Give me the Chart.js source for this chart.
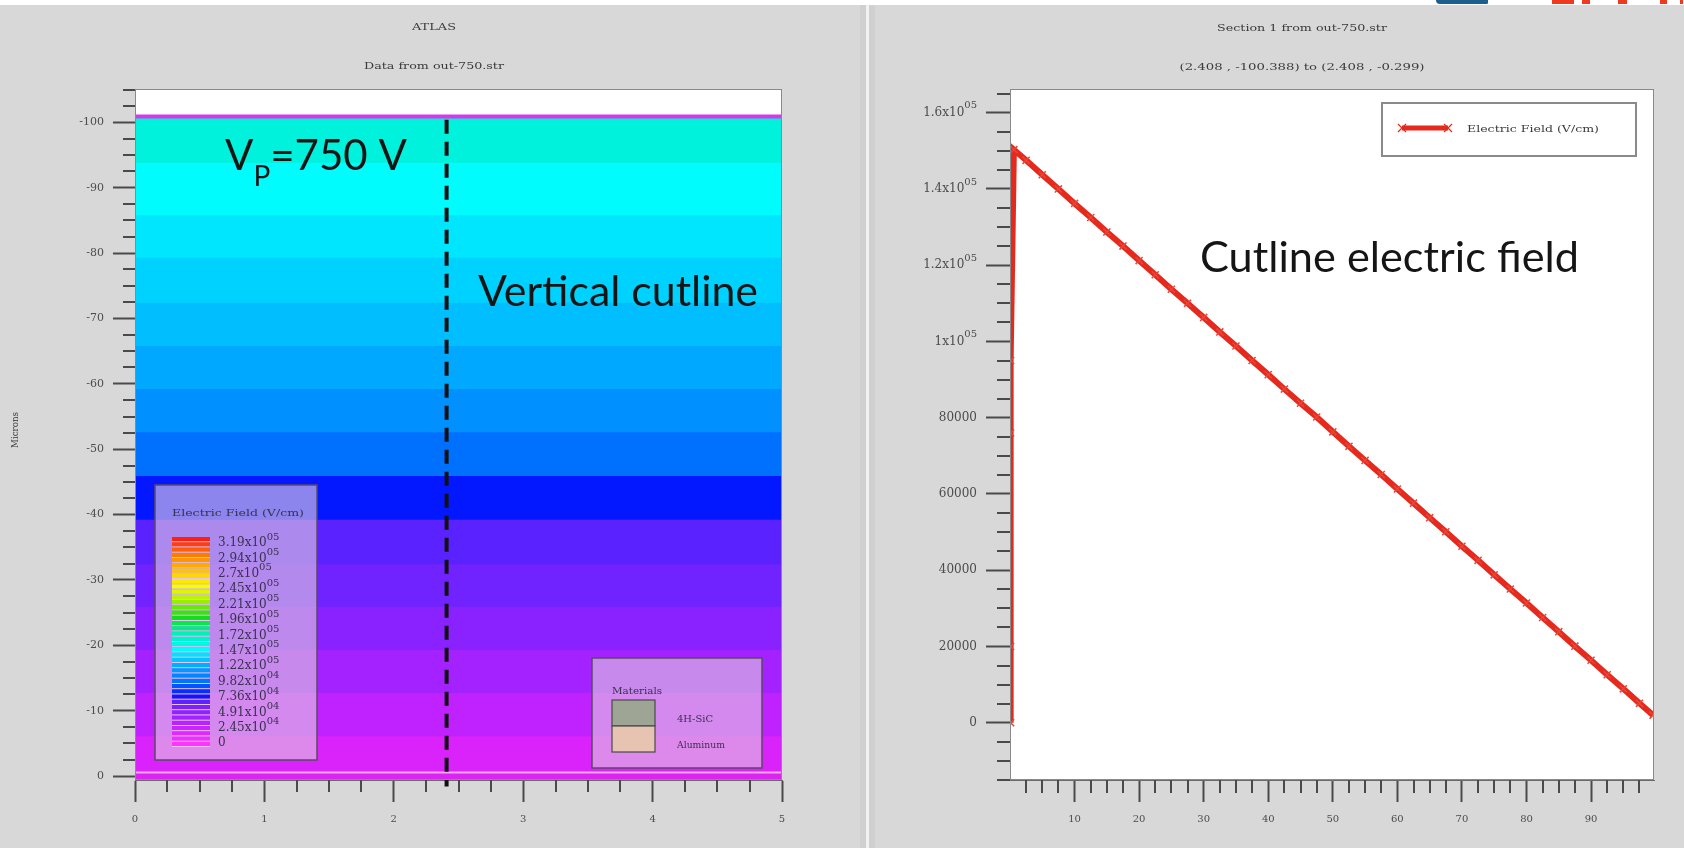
<!DOCTYPE html>
<html>
<head>
<meta charset="utf-8">
<title>Electric field – out-750.str</title>
<script src="https://cdn.jsdelivr.net/npm/chart.js@4.4.1/dist/chart.umd.min.js"></script>
<style>
  html, body { margin:0; padding:0; }
  body { width:1684px; height:848px; background:#d8d8d8; position:relative; overflow:hidden; }
  canvas { position:absolute; top:0; }
  #topStrip { position:absolute; left:0; top:0; width:1684px; height:5px; background:#fff; }
  #sep { position:absolute; left:860px; top:5px; width:15px; height:843px; background:#d0d0d0; }
  #sepLine { position:absolute; left:866px; top:5px; width:3px; height:843px; background:#f2f2f2; }
  .logo { position:absolute; top:0; height:4px; }
</style>
</head>
<body>
<div id="topStrip"></div>
<div class="logo" style="left:1436px;width:52px;background:#1c5f8c;border-radius:0 0 10px 30px"></div>
<div class="logo" style="left:1552px;width:22px;background:#f03a20"></div>
<div class="logo" style="left:1582px;width:8px;background:#f03a20"></div>
<div class="logo" style="left:1618px;width:9px;background:#f03a20"></div>
<div class="logo" style="left:1660px;width:7px;background:#f03a20"></div>
<div class="logo" style="left:1680px;width:3px;background:#f03a20"></div>
<div id="sep"></div><div id="sepLine"></div>
<canvas id="fieldMap" width="860" height="848" style="left:0"></canvas>
<canvas id="cutline" width="809" height="848" style="left:875px"></canvas>
<script>
// ---------------- Left panel: contour bands of the electric field ----------------
// Band boundaries (depth, microns) from the top contact down to the back side
const bandEdges = [-101.2, -100.6, -93.8, -85.8, -79.3, -72.4, -65.8, -59.2, -52.6,
                   -45.9, -39.2, -32.4, -25.9, -19.3, -12.7, -6.1, -0.7, -0.4, 0.6];
// Fill colour of the band below each boundary
const bandColors = ['#d838e8', '#00f2dc', '#00fcfc', '#00e6ff', '#00d2ff', '#00beff',
                    '#00a8ff', '#0090ff', '#0070ff', '#0418ff', '#5a22ff', '#7022ff',
                    '#8a22ff', '#a422ff', '#c022ff', '#da22fa', '#f4a8f4', '#dc24f2'];
// Vertical cutline position (x, microns) and its depth extent
const cutlineX = 2.408;
const cutlineDepth = [-100.388, 1.6];

const mapXTicks = [0, 1, 2, 3, 4, 5];
const mapYTicks = [-100, -90, -80, -70, -60, -50, -40, -30, -20, -10, 0];
const mapYLabels = ['-100', '-90', '-80', '-70', '-60', '-50', '-40', '-30', '-20', '-10', '0'];

// Colour-bar levels of the field legend (V/cm)
const fieldLevels = [319000, 294000, 270000, 245000, 221000, 196000, 172000,
                     147000, 122000, 98200, 73600, 49100, 24500, 0];
const fieldLevelBase = ['3.19x10', '2.94x10', '2.7x10', '2.45x10', '2.21x10', '1.96x10', '1.72x10',
                        '1.47x10', '1.22x10', '9.82x10', '7.36x10', '4.91x10', '2.45x10', '0'];
const fieldLevelExp = ['05', '05', '05', '05', '05', '05', '05', '05', '05', '04', '04', '04', '04', ''];

const materials = ['4H-SiC', 'Aluminum'];
const materialColors = ['#9ea594', '#e7c3b2'];

// ---------------- Right panel: field along the cutline ----------------
const cutDistance = [0.1, 0.1, 0.1, 0.1, 0.6, 2.5, 5, 7.5, 10, 12.5, 15, 17.5, 20, 22.5, 25,
                     27.5, 30, 32.5, 35, 37.5, 40, 42.5, 45, 47.5, 50, 52.5, 55, 57.5, 60,
                     62.5, 65, 67.5, 70, 72.5, 75, 77.5, 80, 82.5, 85, 87.5, 90, 92.5, 95,
                     97.5, 99.6];
const fieldValues = [0, 20000, 76000, 95000, 150300, 147500, 143700, 140000, 136200, 132500,
                     128700, 125000, 121200, 117500, 113700, 110000, 106300, 102500, 98800,
                     95000, 91300, 87500, 83800, 80200, 76300, 72500, 68800, 65100, 61300,
                     57600, 53800, 50100, 46300, 42600, 38800, 35100, 31400, 27600, 23900,
                     20100, 16400, 12600, 8900, 5100, 2000];
const cutXTicks = [10, 20, 30, 40, 50, 60, 70, 80, 90];
const cutYTicks = [0, 20000, 40000, 60000, 80000, 100000, 120000, 140000, 160000];
const cutYLabelBase = ['0', '20000', '40000', '60000', '80000', '1x10', '1.2x10', '1.4x10', '1.6x10'];
const cutYLabelExp = ['', '', '', '', '', '05', '05', '05', '05'];

// ---------------- shared helpers ----------------
const SMALL = '"DejaVu Serif", "Liberation Serif", serif';
const BIG = 'Lato, "Open Sans", sans-serif';

function steps(from, to, step, skipEvery) {
  const out = [];
  for (let v = from; v <= to + 1e-9; v += step) {
    const r = Math.round(v * 1000) / 1000;
    if (skipEvery && Math.abs(r / skipEvery - Math.round(r / skipEvery)) < 1e-6) continue;
    out.push(r);
  }
  return out;
}

// draw text squeezed/stretched horizontally to span a given width
function fitText(ctx, text, x, y, font, width, align) {
  ctx.save();
  ctx.font = font;
  const w = ctx.measureText(text).width;
  const k = width / w;
  let left = x;
  if (align === 'center') left = x - width / 2;
  ctx.translate(left, y);
  ctx.scale(k, 1);
  ctx.textAlign = 'left';
  ctx.fillText(text, 0, 0);
  ctx.restore();
}

function mix(c1, c2, t) {
  const a = parseInt(c1.slice(1), 16), b = parseInt(c2.slice(1), 16);
  const ch = s => Math.round(((a >> s) & 255) * (1 - t) + ((b >> s) & 255) * t);
  return `rgb(${ch(16)},${ch(8)},${ch(0)})`;
}
// colour ramp of the legend bar, bottom (0) to top (1)
const ramp = [[0, '#ff34ff'], [0.08, '#c824ff'], [0.16, '#8a22ff'], [0.21, '#5a22ff'], [0.235, '#0410ff'],
              [0.3, '#0070ff'], [0.38, '#00a8ff'], [0.46, '#00fcfc'], [0.54, '#00f0b4'], [0.62, '#10e010'],
              [0.7, '#a8f000'], [0.77, '#fcfc00'], [0.85, '#ffc000'], [0.92, '#ff8000'], [1, '#ff2010']];
function rampColor(t) {
  for (let i = 1; i < ramp.length; i++) {
    if (t <= ramp[i][0]) {
      const [t0, c0] = ramp[i - 1], [t1, c1] = ramp[i];
      return mix(c0, c1, (t - t0) / (t1 - t0));
    }
  }
  return ramp[ramp.length - 1][1];
}

// mantissa with a raised exponent; align 'right' puts the exponent's end at x
function drawSci(ctx, base, exp, x, y, size, expSize, rise, align) {
  ctx.textBaseline = 'middle';
  ctx.textAlign = 'left';
  ctx.font = `${size}px ${SMALL}`;
  const wb = ctx.measureText(base).width;
  ctx.font = `${expSize}px ${SMALL}`;
  const we = exp ? ctx.measureText(exp).width : 0;
  const left = align === 'right' ? x - wb - we : x;
  ctx.font = `${size}px ${SMALL}`;
  ctx.fillText(base, left, y);
  if (exp) {
    ctx.font = `${expSize}px ${SMALL}`;
    ctx.fillText(exp, left + wb, y - rise);
  }
}

const plotBackground = {
  id: 'plotBackground',
  beforeDraw(chart) {
    const { ctx, chartArea: a } = chart;
    ctx.save();
    ctx.fillStyle = '#ffffff';
    ctx.fillRect(a.left, a.top, a.right - a.left, a.bottom - a.top);
    ctx.restore();
  },
  afterDraw(chart) {
    const { ctx, chartArea: a } = chart;
    ctx.save();
    ctx.strokeStyle = '#8a8a8a';
    ctx.lineWidth = 1;
    ctx.strokeRect(a.left + 0.5, a.top + 0.5, a.right - a.left - 1, a.bottom - a.top - 1);
    ctx.restore();
  }
};

const minorTicks = {
  id: 'minorTicks',
  afterDraw(chart, args, opts) {
    const { ctx, chartArea: a, scales } = chart;
    ctx.save();
    ctx.strokeStyle = opts.color || '#555';
    ctx.lineWidth = opts.width || 2;
    ctx.beginPath();
    (opts.x || []).forEach(v => {
      const p = Math.round(scales.x.getPixelForValue(v));
      ctx.moveTo(p, a.bottom); ctx.lineTo(p, a.bottom + opts.length);
    });
    (opts.y || []).forEach(v => {
      const p = Math.round(scales.y.getPixelForValue(v));
      ctx.moveTo(a.left, p); ctx.lineTo(a.left - opts.length, p);
    });
    ctx.stroke();
    ctx.restore();
  }
};

function axisOptions(o) {
  return {
    type: 'linear',
    min: o.min, max: o.max, reverse: !!o.reverse,
    position: o.position,
    afterBuildTicks: s => { s.ticks = o.ticks.map(v => ({ value: v })); },
    afterFit: s => { if (o.width) s.width = o.width; if (o.height) s.height = o.height; },
    grid: { drawOnChartArea: false, drawTicks: true, tickLength: o.tickLength, tickColor: '#4a4a4a', tickWidth: 2 },
    border: { display: true, color: '#6a6a6a', width: 1 },
    ticks: {
      display: !o.hideLabels,
      padding: o.padding, color: '#4c4c4c', maxRotation: 0, autoSkip: false,
      font: { family: SMALL, size: o.fontSize },
      callback: (v, i) => o.labels ? o.labels[i] : String(v)
    }
  };
}

// ---------------- left chart ----------------
// each boundary fills downward to the bottom; lower bands are painted over upper ones
const mapDatasets = bandEdges.map((d, i) => ({
  data: [{ x: 0, y: d }, { x: 5, y: d }],
  borderWidth: 0, pointRadius: 0,
  backgroundColor: bandColors[i] || 'transparent',
  fill: i < bandColors.length ? 'start' : false,
  order: -i
}));
mapDatasets.push({
  data: cutlineDepth.map(d => ({ x: cutlineX, y: d })),
  borderColor: '#111111', borderWidth: 4, borderDash: [14, 8],
  pointRadius: 0, fill: false, clip: false,
  order: -100
});

const mapOverlay = {
  id: 'mapOverlay',
  afterDraw(chart) {
    const ctx = chart.ctx;
    ctx.save();
    ctx.fillStyle = '#3a3a3a';
    ctx.textBaseline = 'middle';
    fitText(ctx, 'ATLAS', 434, 27, `10px ${SMALL}`, 44, 'center');
    fitText(ctx, 'Data from out-750.str', 434, 66, `10px ${SMALL}`, 140, 'center');
    // y-axis title
    ctx.save();
    ctx.translate(16, 430);
    ctx.rotate(-Math.PI / 2);
    fitText(ctx, 'Microns', 0, 0, `9px ${SMALL}`, 36, 'center');
    ctx.restore();

    // field legend
    ctx.fillStyle = 'rgba(222,200,226,0.62)';
    ctx.fillRect(155, 485, 162, 275);
    ctx.strokeStyle = '#5a4a66'; ctx.lineWidth = 1.5;
    ctx.strokeRect(155, 485, 162, 275);
    ctx.fillStyle = '#3a3050';
    fitText(ctx, 'Electric Field (V/cm)', 172, 514, `9px ${SMALL}`, 132, 'left');
    const n = (fieldLevels.length - 1) * 3 + 1;
    const top = 537, bottom = 747, h = (bottom - top) / n;
    for (let i = 0; i < n; i++) {
      ctx.fillStyle = rampColor(1 - i / (n - 1));
      ctx.fillRect(172, top + i * h, 38, h - 1);
      ctx.fillStyle = 'rgba(255,230,255,0.6)';
      ctx.fillRect(172, top + i * h + h - 1, 38, 1);
    }
    ctx.fillStyle = '#3a3050';
    fieldLevelBase.forEach((b, i) => {
      drawSci(ctx, b, fieldLevelExp[i], 218, 543 + i * 15.4, 12, 10, 6, 'left');
    });

    // materials legend
    ctx.fillStyle = 'rgba(222,200,226,0.62)';
    ctx.fillRect(592, 658, 170, 110);
    ctx.strokeStyle = '#5a4a66'; ctx.lineWidth = 1.5;
    ctx.strokeRect(592, 658, 170, 110);
    ctx.fillStyle = '#3a3050';
    ctx.textBaseline = 'middle';
    fitText(ctx, 'Materials', 612, 691, `10px ${SMALL}`, 50, 'left');
    materials.forEach((m, i) => {
      const y = 700 + i * 26;
      ctx.fillStyle = materialColors[i];
      ctx.fillRect(612, y, 43, 26);
      ctx.strokeStyle = '#4a4a4a'; ctx.lineWidth = 1.2;
      ctx.strokeRect(612, y, 43, 26);
      ctx.fillStyle = '#3a3050';
      fitText(ctx, m, 677, y + 19, `10px ${SMALL}`, i === 0 ? 36 : 48, 'left');
    });

    // annotations
    ctx.fillStyle = '#151515';
    ctx.textBaseline = 'alphabetic';
    ctx.font = `42px ${BIG}`;
    ctx.fillText('V', 225, 170);
    let x = 225 + ctx.measureText('V').width;
    ctx.font = `28px ${BIG}`;
    ctx.fillText('P', x, 186);
    x += ctx.measureText('P').width;
    ctx.font = `42px ${BIG}`;
    ctx.fillText('=750 V', x, 170);
    fitText(ctx, 'Vertical cutline', 478, 306, `42px ${BIG}`, 280, 'left');
    ctx.restore();
  }
};

new Chart(document.getElementById('fieldMap'), {
  type: 'line',
  data: { datasets: mapDatasets },
  options: {
    responsive: false, animation: false, events: [],
    layout: { padding: { top: 89, right: 78, left: 0, bottom: 0 } },
    plugins: {
      legend: { display: false }, tooltip: { enabled: false },
      minorTicks: { x: steps(0, 5, 0.25, 1), y: steps(-105, 0, 2.5, 10), length: 12, color: '#4a4a4a', width: 2 }
    },
    elements: { line: { tension: 0 } },
    scales: {
      x: axisOptions({ min: 0, max: 5, ticks: mapXTicks, tickLength: 22, padding: 11, fontSize: 10, height: 68, position: 'bottom' }),
      y: axisOptions({ min: -105.1, max: 0.6, reverse: true, ticks: mapYTicks, labels: mapYLabels, tickLength: 22, padding: 9, fontSize: 11, width: 135, position: 'left' })
    }
  },
  plugins: [plotBackground, minorTicks, mapOverlay]
});

// ---------------- right chart ----------------
const cutOverlay = {
  id: 'cutOverlay',
  afterDraw(chart) {
    const ctx = chart.ctx;
    const ox = 875;
    ctx.save();
    // y tick labels with raised exponents, placed on the library's y scale
    const ys = chart.scales.y;
    const labelRight = chart.chartArea.left - 24 - 9;
    ctx.fillStyle = '#4c4c4c';
    cutYTicks.forEach((v, i) => {
      drawSci(ctx, cutYLabelBase[i], cutYLabelExp[i], labelRight, ys.getPixelForValue(v), 12, 10, 7, 'right');
    });

    ctx.fillStyle = '#3a3a3a';
    ctx.textBaseline = 'middle';
    fitText(ctx, 'Section 1 from out-750.str', 1302 - ox, 28, `10px ${SMALL}`, 170, 'center');
    fitText(ctx, '(2.408 , -100.388) to (2.408 , -0.299)', 1302 - ox, 67, `10px ${SMALL}`, 245, 'center');

    // legend
    ctx.fillStyle = '#ffffff';
    ctx.fillRect(1382 - ox, 103, 254, 53);
    ctx.strokeStyle = '#8a8a8a'; ctx.lineWidth = 2;
    ctx.strokeRect(1382 - ox, 103, 254, 53);
    ctx.strokeStyle = '#e52a1d'; ctx.lineWidth = 5;
    ctx.beginPath(); ctx.moveTo(1402 - ox, 128); ctx.lineTo(1448 - ox, 128); ctx.stroke();
    ctx.lineWidth = 1.2;
    [1402, 1448].forEach(px => {
      ctx.beginPath();
      ctx.moveTo(px - ox - 4, 124); ctx.lineTo(px - ox + 4, 132);
      ctx.moveTo(px - ox - 4, 132); ctx.lineTo(px - ox + 4, 124);
      ctx.stroke();
    });
    ctx.fillStyle = '#3a3a3a';
    fitText(ctx, 'Electric Field (V/cm)', 1467 - ox, 129, `10px ${SMALL}`, 132, 'left');

    ctx.fillStyle = '#151515';
    ctx.textBaseline = 'alphabetic';
    fitText(ctx, 'Cutline electric field', 1200 - ox, 272, `42px ${BIG}`, 379, 'left');
    ctx.restore();
  }
};

new Chart(document.getElementById('cutline'), {
  type: 'line',
  data: {
    datasets: [{
      label: 'Electric Field (V/cm)',
      data: cutDistance.map((x, i) => ({ x, y: fieldValues[i] })),
      borderColor: '#e52a1d', borderWidth: 6,
      pointStyle: 'crossRot', pointRadius: 5, pointBorderWidth: 1.5,
      pointBorderColor: '#e8463a', pointBackgroundColor: '#e52a1d',
      fill: false, tension: 0
    }]
  },
  options: {
    responsive: false, animation: false, events: [],
    layout: { padding: { top: 89, right: 30, left: 0, bottom: 0 } },
    plugins: {
      legend: { display: false }, tooltip: { enabled: false },
      minorTicks: { x: steps(2.5, 97.5, 2.5, 10), y: steps(-15000, 165000, 5000, 20000), length: 13, color: '#4a4a4a', width: 2 }
    },
    scales: {
      x: axisOptions({ min: 0, max: 99.75, ticks: cutXTicks, tickLength: 22, padding: 11, fontSize: 10, height: 68, position: 'bottom' }),
      y: axisOptions({ min: -15000, max: 166200, ticks: cutYTicks, tickLength: 24, padding: 9, fontSize: 12, width: 135, position: 'left', hideLabels: true })
    }
  },
  plugins: [plotBackground, minorTicks, cutOverlay]
});
</script>
</body>
</html>
